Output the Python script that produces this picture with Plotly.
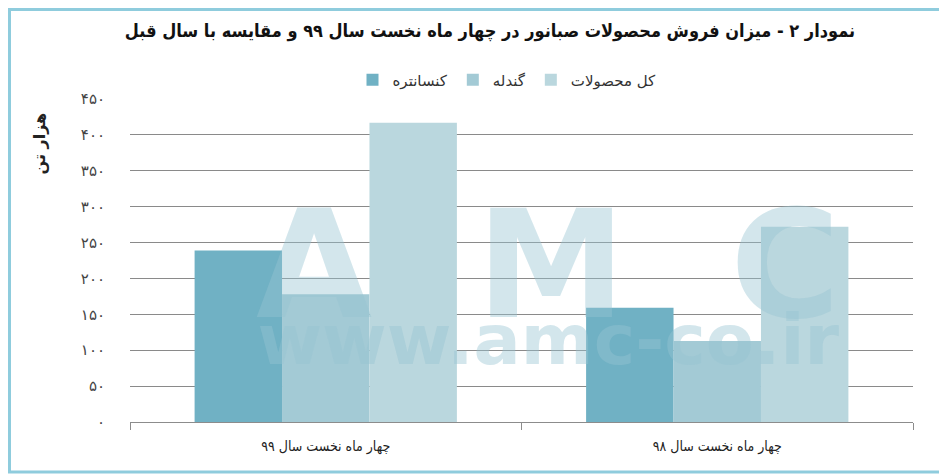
import plotly.graph_objects as go

# دسته ها و مقادیر (هزار تن)
categories = ["چهار ماه نخست سال ۹۹", "چهار ماه نخست سال ۹۸"]
series_names = ["کنسانتره", "گندله", "کل محصولات"]
konsantre = [239, 159]
gondele = [178, 113]
kol = [417, 272]

tick_vals = [0, 50, 100, 150, 200, 250, 300, 350, 400, 450]
tick_text = ["۰", "۵۰", "۱۰۰", "۱۵۰", "۲۰۰", "۲۵۰", "۳۰۰", "۳۵۰", "۴۰۰", "۴۵۰"]

colors = ["#70B1C4", "#A3CAD5", "#BAD7DE"]
persian_font = "DejaVu Sans"

# صفحه 8 پیکسل حاشیه دارد؛ شکل را کوچکتر می گیریم
off = 8
W, H = 947 - off, 474 - off
ml, mr, mt, mb = 130 - off, 34, 99 - off, 52
pw, ph = W - ml - mr, H - mt - mb


def px_x(px):
    return (px - off - ml) / pw


def px_y(py):
    return (H - mb - (py - off)) / ph


fig = go.Figure()
for name, vals, col in zip(series_names, [konsantre, gondele, kol], colors):
    fig.add_trace(go.Bar(x=categories, y=vals, name=name,
                         marker=dict(color=col, line=dict(width=0))))

fig.update_layout(
    width=W, height=H,
    margin=dict(l=ml, r=mr, t=mt, b=mb),
    paper_bgcolor="white", plot_bgcolor="white",
    barmode="group", bargap=0.33, bargroupgap=0,
    font=dict(family=persian_font, color="#333333"),
    title=dict(text="<b>نمودار ۲ - میزان فروش محصولات صبانور در چهار ماه نخست سال ۹۹ و مقایسه با سال قبل</b>",
               x=(490 - off) / W, xanchor="center", y=1 - (31 - off) / H, yanchor="middle",
               font=dict(size=18, color="#111111", family="DejaVu Sans Condensed")),
    legend=dict(orientation="h", x=px_x(507), xanchor="center", y=px_y(80), yanchor="middle",
                font=dict(size=15, color="#333333"), itemsizing="constant"),
    showlegend=True,
)

fig.update_xaxes(showline=True, linecolor="#8C8C8C", linewidth=1,
                 ticks="outside", tickson="boundaries", ticklen=7, tickcolor="#8C8C8C",
                 tickfont=dict(size=14, color="#222222", family="DejaVu Sans Condensed"),
                 ticklabelstandoff=11, showgrid=False)
fig.update_yaxes(range=[0, 450], tickvals=tick_vals, ticktext=tick_text,
                 showgrid=True, gridcolor="#8A8A8A", gridwidth=1, zeroline=False,
                 tickfont=dict(size=15, color="#444444"), ticklabelstandoff=24)

# عنوان محور
fig.add_annotation(text="<b>هزار تن</b>", textangle=-90, xref="paper", yref="paper",
                   x=px_x(27), y=px_y(111), showarrow=False,
                   font=dict(size=16, color="#222222"))

# واترمارک (یک متن دو خطی)
wm = "rgba(150,195,210,0.42)"
sp = "\u00a0\u00a0"
wm_text = ("<b><span style='font-size:150px'>A" + sp + "M" + sp + "C</span>"
           "<br><span style='font-size:70px'>www.amc-co.ir</span></b>")
fig.add_annotation(text=wm_text, xref="paper", yref="paper",
                   x=px_x(548), y=px_y(279), showarrow=False,
                   font=dict(size=36, color=wm, family="DejaVu Sans"))

# کادر دور نمودار
fig.add_shape(type="rect", xref="paper", yref="paper",
              x0=px_x(off + 1.5), x1=px_x(945.5), y0=px_y(472), y1=px_y(off + 1.5),
              line=dict(color="#8FCCDD", width=3), layer="above")

fig.write_html("out.html")
